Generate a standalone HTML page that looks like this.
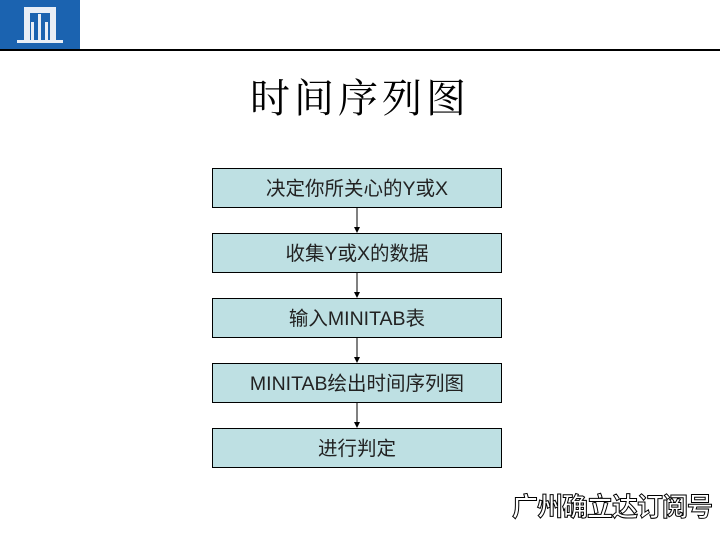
<!DOCTYPE html>
<html><head><meta charset="utf-8"><style>
body{margin:0;width:720px;height:540px;background:#fff;position:relative;overflow:hidden;font-family:"Liberation Sans","Noto Sans CJK SC",sans-serif}
.hdr{position:absolute;left:0;top:0;width:80px;height:49px;background:#1b63b0}
.line{position:absolute;left:0;top:49px;width:720px;height:2px;background:#000}
.title{position:absolute;left:0;width:720px;top:74px;text-align:center;font-family:"Liberation Serif","Noto Serif CJK SC",serif;font-size:40px;letter-spacing:4px;color:#000;line-height:50px}
.box{position:absolute;left:212px;width:288px;height:38px;background:#bee0e3;border:1px solid #000;text-align:center;line-height:40px;font-size:19.5px;color:#222;font-weight:normal}
.wm{position:absolute;left:512px;top:490px;font-size:26px;font-weight:bold;color:#fff;-webkit-text-stroke:1px #000;font-family:"Noto Sans CJK SC",sans-serif;letter-spacing:-1px;line-height:32px}
</style></head><body>
<div class="hdr"><svg width="80" height="49" viewBox="0 0 80 49">
<path d="M24 7h32v36h-6V13h-20v30h-6z" fill="#e8eef6"/>
<rect x="31" y="22" width="3" height="21" fill="#e8eef6"/>
<rect x="38" y="14" width="3" height="29" fill="#e8eef6"/>
<rect x="45" y="22" width="3" height="21" fill="#e8eef6"/>
<rect x="17" y="40" width="46" height="3" fill="#e8eef6"/>
</svg></div>
<div class="line"></div>
<div class="title">时间序列图</div>
<div class="box" style="top:168px">决定你所关心的Y或X</div>
<div class="box" style="top:233px">收集Y或X的数据</div>
<div class="box" style="top:298px">输入MINITAB表</div>
<div class="box" style="top:363px">MINITAB绘出时间序列图</div>
<div class="box" style="top:428px">进行判定</div>
<svg style="position:absolute;left:0;top:0" width="720" height="540">
<g stroke="#000" stroke-width="1"><line x1="357" y1="208" x2="357" y2="228"/><line x1="357" y1="273" x2="357" y2="293"/><line x1="357" y1="338" x2="357" y2="358"/><line x1="357" y1="403" x2="357" y2="423"/></g>
<g fill="#000"><path d="M354 227h6l-3 6z"/><path d="M354 292h6l-3 6z"/><path d="M354 357h6l-3 6z"/><path d="M354 422h6l-3 6z"/></g>
</svg>
<div class="wm">广州确立达订阅号</div>
</body></html>
